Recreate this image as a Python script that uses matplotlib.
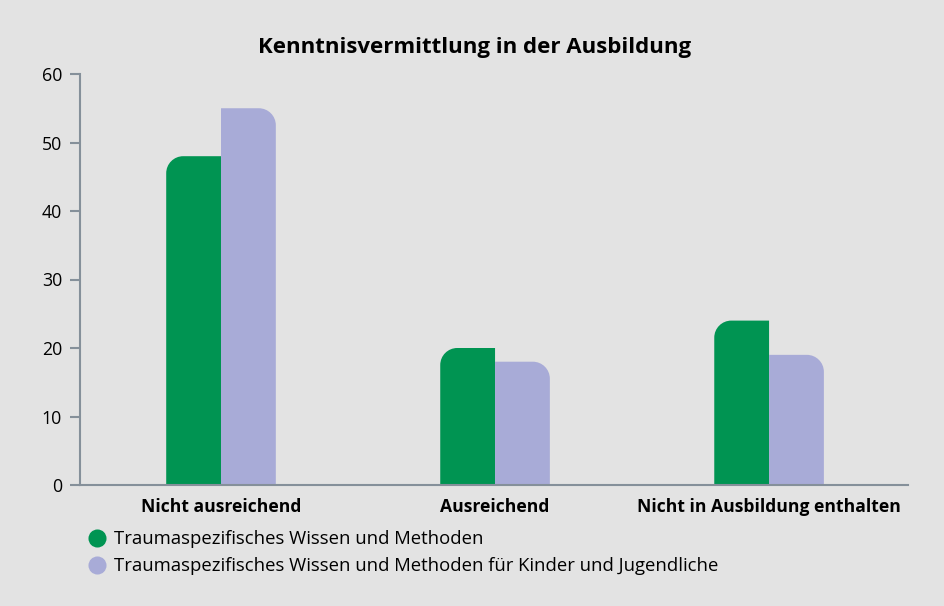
import matplotlib
matplotlib.use("Agg")
import matplotlib.pyplot as plt
from matplotlib.path import Path
from matplotlib.patches import PathPatch
from matplotlib.lines import Line2D

categories = ["Nicht ausreichend", "Ausreichend", "Nicht in Ausbildung enthalten"]
series_names = ["Traumaspezifisches Wissen und Methoden",
                "Traumaspezifisches Wissen und Methoden für Kinder und Jugendliche"]
values_a = [48, 20, 24]
values_b = [55, 18, 19]
yticks = [0, 10, 20, 30, 40, 50, 60]

GREEN = "#009452"
LAV = "#a8abd7"
BG = "#e3e3e3"
AX = "#85909a"

plt.rcParams['font.family'] = ['Open Sans', 'DejaVu Sans']

fig = plt.figure(figsize=(9.44, 6.06), dpi=100, facecolor=BG)
ax = fig.add_axes([80/944, 1-485/606, 828/944, 411/606], facecolor=BG)
xmin, xmax = -0.5146, 2.507
ax.set_xlim(xmin, xmax)
ax.set_ylim(0, 60)

w = 0.2
x = list(range(len(categories)))
bars_a = ax.bar([i - w/2 for i in x], values_a, width=w, color=GREEN)
bars_b = ax.bar([i + w/2 for i in x], values_b, width=w, color=LAV)

r_px = 17
px_per_x = 828 / (xmax - xmin)
px_per_y = 411 / 60.0
rx = r_px / px_per_x
ry = r_px / px_per_y
k = 0.5523

def rounded_path(x0, x1, h, corner):
    if corner == "left":
        verts = [(x1, 0), (x1, h), (x0 + rx, h),
                 (x0 + rx - k*rx, h), (x0, h - ry + k*ry), (x0, h - ry),
                 (x0, 0), (x1, 0)]
    else:
        verts = [(x0, 0), (x0, h), (x1 - rx, h),
                 (x1 - rx + k*rx, h), (x1, h - ry + k*ry), (x1, h - ry),
                 (x1, 0), (x0, 0)]
    codes = [Path.MOVETO, Path.LINETO, Path.LINETO,
             Path.CURVE4, Path.CURVE4, Path.CURVE4,
             Path.LINETO, Path.CLOSEPOLY]
    return Path(verts, codes)

for bars, corner, col in [(bars_a, "left", GREEN), (bars_b, "right", LAV)]:
    for b in bars:
        x0 = b.get_x(); x1 = x0 + b.get_width(); h = b.get_height()
        b.set_visible(False)
        ax.add_patch(PathPatch(rounded_path(x0, x1, h, corner), facecolor=col,
                               edgecolor="none", zorder=2))

ax.set_yticks(yticks)
ax.set_xticks(x)
ax.set_xticklabels(categories, fontsize=12.6, fontweight="bold")
ax.tick_params(axis='x', length=0, pad=9)
ax.tick_params(axis='y', length=7, width=1.5, color=AX, labelsize=12.8, pad=6)
for s in ["top", "right"]:
    ax.spines[s].set_visible(False)
for s in ["left", "bottom"]:
    ax.spines[s].set_color(AX)
    ax.spines[s].set_linewidth(1.5)

fig.text(475/944, 1-48/606, "Kenntnisvermittlung in der Ausbildung",
         ha="center", va="center", fontsize=16, fontweight="bold")

handles = [Line2D([], [], marker="o", linestyle="none", markersize=13,
                  markerfacecolor=c, markeredgecolor="none") for c in (GREEN, LAV)]
fig.legend(handles, series_names, loc="upper left",
           bbox_to_anchor=(88/944, 1-530/606), frameon=False, fontsize=13.3,
           handletextpad=0.4, labelspacing=0.5, borderaxespad=0, borderpad=0,
           handlelength=1.0)

fig.savefig("out.png", dpi=100, facecolor=BG)
